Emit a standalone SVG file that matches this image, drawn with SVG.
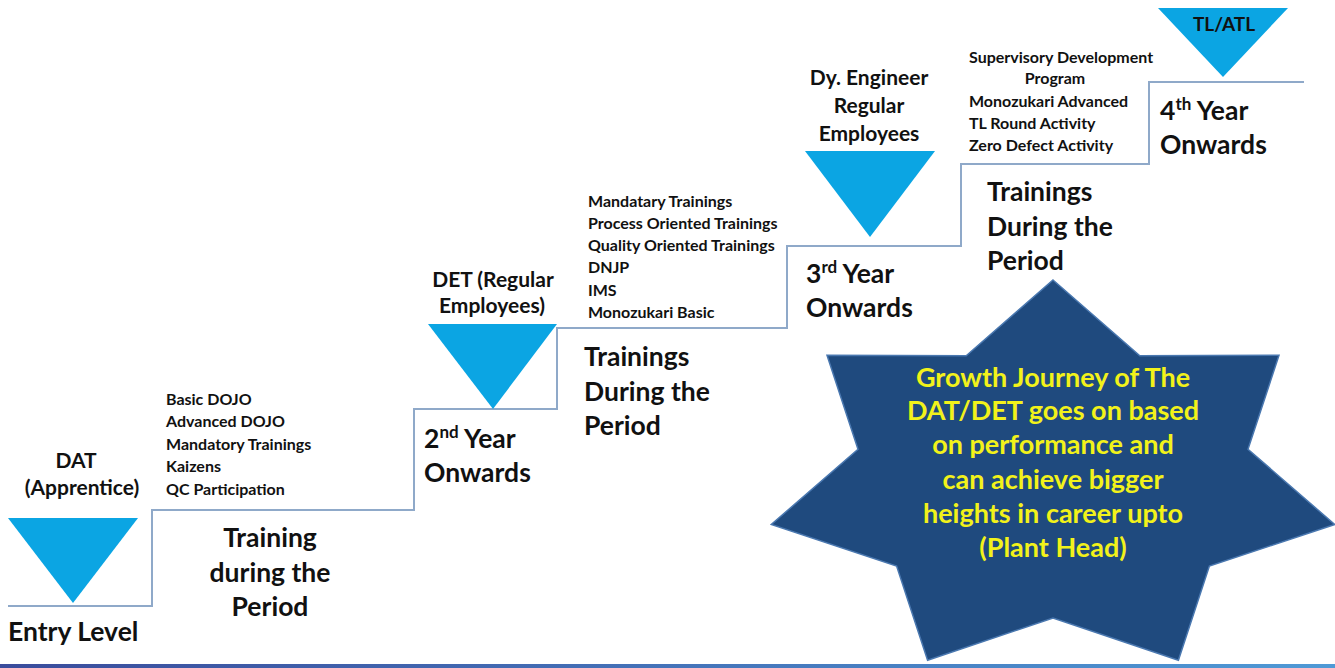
<svg xmlns="http://www.w3.org/2000/svg" width="1335" height="668" viewBox="0 0 1335 668">
<defs>
<style>
text{font-family:Lato,"Open Sans","Liberation Sans",sans-serif;font-weight:700;fill:#111}
.tri{fill:#0ba5e3}
.stair{fill:none;stroke:#8fa9c9;stroke-width:2}
.big{font-size:26.5px}
.lbl{font-size:21px}
.lst{font-size:16px}
.star-t{font-size:27px;fill:#f2f21a;text-anchor:middle}
.mid{text-anchor:middle}
</style>
<linearGradient id="bar" x1="0" y1="0" x2="1" y2="0">
<stop offset="0" stop-color="#3a4c9c"/>
<stop offset="1" stop-color="#4f9ad6"/>
</linearGradient>
</defs>
<rect width="1335" height="668" fill="#fff"/>
<g id="connectors">
<path class="stair" d="M8,606 H152 V510 H414 V409 H557 V328 H787 V246 H961 V164 H1149 V82 H1304"/>
</g>
<g id="growth-star">
<polygon points="1053,280 1139.8,355.7 1279,355.3 1248,449.3 1334.7,524.5 1209.4,566 1178.4,660.2 1053,618 927.6,660.2 896.6,566 771.3,524.5 858,449.3 827,355.3 966.2,355.7" fill="#1f4a7e" stroke="#4a78b0" stroke-width="1.5"/>
<text class="star-t" x="1053" y="387">Growth Journey of The</text>
<text class="star-t" x="1053" y="420">DAT/DET goes on based</text>
<text class="star-t" x="1053" y="454">on performance and</text>
<text class="star-t" x="1053" y="489">can achieve bigger</text>
<text class="star-t" x="1053" y="523">heights in career upto</text>
<text class="star-t" x="1053" y="557">(Plant Head)</text>
</g>
<g id="entry-level">
<polygon class="tri" points="8,518 138,518 73,603"/>
<text class="lbl mid" x="76" y="468">DAT</text>
<text class="lbl mid" x="82" y="495">(Apprentice)</text>
<text class="big" x="8" y="641">Entry Level</text>
</g>
<g id="training-1">
<text class="lst" x="166" y="405">Basic DOJO</text>
<text class="lst" x="166" y="427">Advanced DOJO</text>
<text class="lst" x="166" y="450">Mandatory Trainings</text>
<text class="lst" x="166" y="472">Kaizens</text>
<text class="lst" x="166" y="495">QC Participation</text>
<text class="big mid" x="270" y="547">Training</text>
<text class="big mid" x="270" y="582">during the</text>
<text class="big mid" x="270" y="616">Period</text>
</g>
<g id="second-year">
<polygon class="tri" points="428,324 557,324 493,409"/>
<text class="lbl mid" x="493" y="287">DET (Regular</text>
<text class="lbl mid" x="492" y="313">Employees)</text>
<text class="big" x="424" y="448">2<tspan font-size="17" dy="-10">nd</tspan><tspan dy="10"> Year</tspan></text>
<text class="big" x="424" y="482">Onwards</text>
</g>
<g id="training-2">
<text class="lst" x="588" y="207">Mandatary Trainings</text>
<text class="lst" x="588" y="229">Process Oriented Trainings</text>
<text class="lst" x="588" y="251">Quality Oriented Trainings</text>
<text class="lst" x="588" y="273">DNJP</text>
<text class="lst" x="588" y="296">IMS</text>
<text class="lst" x="588" y="318">Monozukari Basic</text>
<text class="big" x="584" y="366">Trainings</text>
<text class="big" x="584" y="401">During the</text>
<text class="big" x="584" y="435">Period</text>
</g>
<g id="third-year">
<polygon class="tri" points="805,151 935,151 870,237"/>
<text class="lbl mid" x="869" y="85">Dy. Engineer</text>
<text class="lbl mid" x="869" y="113">Regular</text>
<text class="lbl mid" x="869" y="141">Employees</text>
<text class="big" x="806" y="283">3<tspan font-size="17" dy="-10">rd</tspan><tspan dy="10"> Year</tspan></text>
<text class="big" x="806" y="317">Onwards</text>
</g>
<g id="training-3">
<text class="lst" x="969" y="63">Supervisory Development</text>
<text class="lst mid" x="1055" y="84">Program</text>
<text class="lst" x="969" y="107">Monozukari Advanced</text>
<text class="lst" x="969" y="129">TL Round Activity</text>
<text class="lst" x="969" y="151">Zero Defect Activity</text>
<text class="big" x="987" y="201">Trainings</text>
<text class="big" x="987" y="236">During the</text>
<text class="big" x="987" y="270">Period</text>
</g>
<g id="fourth-year">
<polygon class="tri" points="1158,8 1288,8 1223,77"/>
<text class="lbl mid" x="1224" y="31" style="font-size:19px">TL/ATL</text>
<text class="big" x="1160" y="120">4<tspan font-size="17" dy="-10">th</tspan><tspan dy="10"> Year</tspan></text>
<text class="big" x="1160" y="154">Onwards</text>
</g>
<rect x="0" y="664" width="1335" height="4" fill="url(#bar)"/>
</svg>
